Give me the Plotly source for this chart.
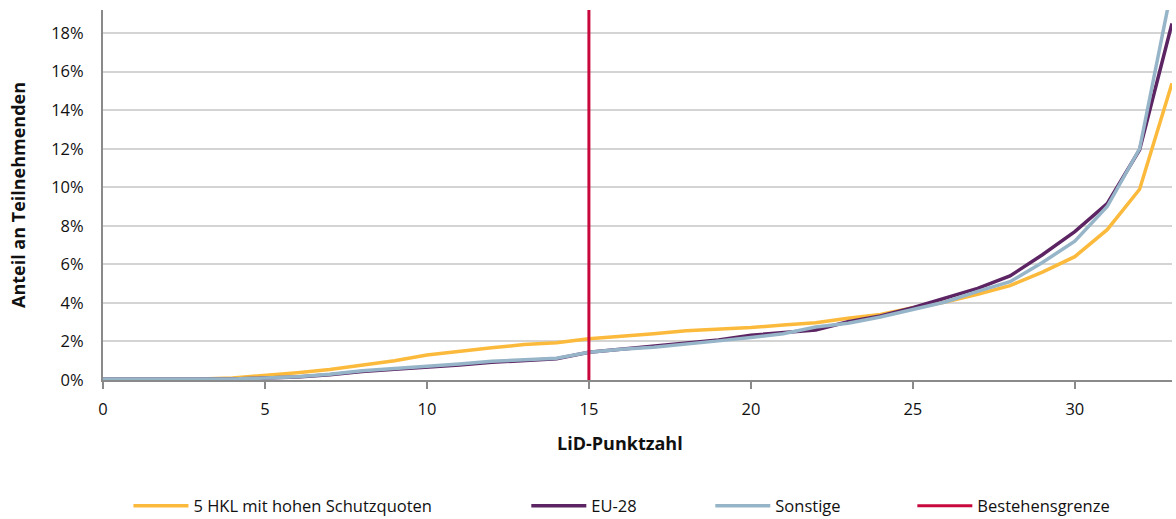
import plotly.graph_objects as go

punkte = list(range(0, 34))
hkl5 = [0.05, 0.05, 0.05, 0.05, 0.1, 0.22, 0.38, 0.55, 0.78, 1.0, 1.3, 1.5, 1.67, 1.84, 1.93,
        2.14, 2.25, 2.4, 2.56, 2.62, 2.72, 2.85, 2.97, 3.2, 3.4, 3.75, 4.05, 4.45, 4.9, 5.6, 6.4,
        7.8, 9.9, 15.4]
eu28 = [0.05, 0.05, 0.03, 0.05, 0.05, 0.1, 0.15, 0.27, 0.44, 0.56, 0.65, 0.78, 0.92, 1.0, 1.1,
        1.44, 1.6, 1.75, 1.88, 2.08, 2.32, 2.48, 2.6, 3.02, 3.32, 3.75, 4.25, 4.75, 5.4, 6.5, 7.7,
        9.15, 11.95, 18.5]
sonstige = [0.05, 0.05, 0.05, 0.05, 0.05, 0.1, 0.17, 0.3, 0.48, 0.6, 0.7, 0.83, 0.97, 1.04, 1.13,
            1.44, 1.6, 1.7, 1.85, 2.03, 2.2, 2.4, 2.75, 2.94, 3.27, 3.65, 4.05, 4.6, 5.1, 6.1, 7.2,
            9.0, 12.0, 20.4]
bestehensgrenze = 15
y_max = 0.192

names = ["5 HKL mit hohen Schutzquoten", "EU-28", "Sonstige", "Bestehensgrenze"]
colors = ["#FBBA3C", "#5C2463", "#97B5C8", "#C8083C"]
FONT = "Open Sans"

fig = go.Figure()
series = [hkl5, eu28, sonstige]
legends = ["legend2", "legend3", "legend4", "legend5"]
for i, s in enumerate(series):
    fig.add_trace(go.Scatter(
        x=punkte, y=[v / 100 for v in s], mode="lines", name=names[i],
        line=dict(color=colors[i], width=3.5), legend=legends[i], showlegend=True))

fig.add_trace(go.Scatter(
    x=[bestehensgrenze, bestehensgrenze], y=[0, y_max], mode="lines", name=names[3],
    line=dict(color=colors[3], width=3), legend=legends[3], showlegend=True))

leg_x = [0.0238, 0.3960, 0.5681, 0.7571]
legend_common = dict(orientation="h", yanchor="middle", y=-0.3405, xanchor="left",
                     font=dict(family=FONT, size=16.5, color="#111"), itemwidth=55,
                     bgcolor="rgba(0,0,0,0)", borderwidth=0)
layout_legends = {}
for k, lg in enumerate(legends):
    layout_legends[lg] = dict(legend_common, x=leg_x[k])

fig.update_layout(
    width=1176, height=519,
    margin=dict(l=103, r=4, t=10, b=139, autoexpand=False),
    plot_bgcolor="white", paper_bgcolor="white",
    font=dict(family=FONT, size=16, color="#111"),
    showlegend=True,
    **layout_legends,
    xaxis=dict(range=[0, 33], tickmode="linear", tick0=0, dtick=5,
               showgrid=False, showline=True, linecolor="#8a8a8a", linewidth=2,
               ticks="outside", ticklen=7, tickwidth=1.5, tickcolor="#8a8a8a",
               ticklabelstandoff=6,
               zeroline=False, tickfont=dict(family=FONT, size=16.5)),
    yaxis=dict(range=[0, y_max], tickmode="linear", tick0=0, dtick=0.02, tickformat=".0%",
               showgrid=True, gridcolor="#D4D4D4", gridwidth=1.5,
               showline=True, linecolor="#8a8a8a", linewidth=2, zeroline=False,
               ticks="", ticklabelstandoff=14, tickfont=dict(family=FONT, size=16.5),
               title=dict(text="<b>Anteil an Teilnehmenden</b>", standoff=21,
                          font=dict(family=FONT, size=18))),
    annotations=[dict(text="<b>LiD-Punktzahl</b>", xref="paper", yref="paper",
                      x=0.484, y=-0.1705, showarrow=False, xanchor="center", yanchor="middle",
                      font=dict(family=FONT, size=18))],
)

fig.write_html("out.html", config={"displayModeBar": False},
               post_script="document.body.style.margin='0';")
